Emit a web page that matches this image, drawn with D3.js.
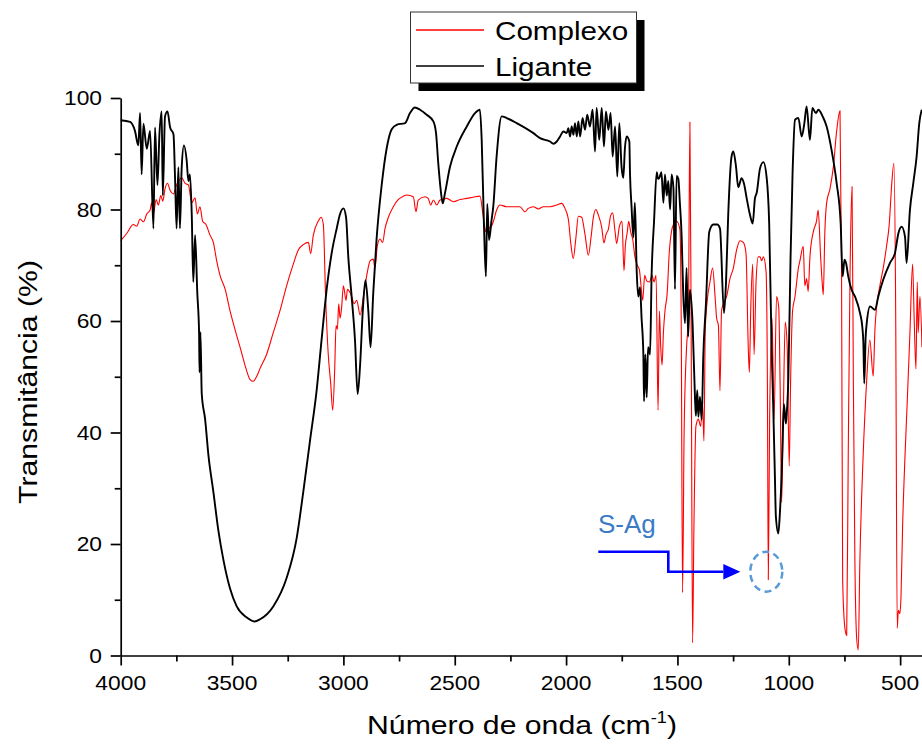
<!DOCTYPE html>
<html><head><meta charset="utf-8">
<script src="https://cdn.jsdelivr.net/npm/d3@7"></script>
<style>
body{margin:0;background:#fff;}
svg{display:block;font-family:"Liberation Sans",Arial,sans-serif;}
</style></head>
<body>
<svg id="chart" width="922" height="747"></svg>
<script>
// ---- data: [wavenumber (cm-1), transmittance (%)] ----
const ligante = [
[4000,96.0],[3958,95.7],[3936,94.1],[3921,91.5],[3913,97.3],[3906,86.3],[3898,95.4],[3883,90.9],[3868,94.1],[3853,76.6],
[3846,94.7],[3835,84.4],[3826,93.5],[3816,97.6],[3811,82.5],[3801,96.7],[3790,97.6],[3778,94.7],[3763,93.5],[3756,85.7],
[3749,76.6],[3741,87.6],[3734,76.6],[3726,87.6],[3716,91.5],[3704,88.9],[3696,85.1],[3689,86.3],[3681,79.2],[3674,67.0],
[3666,75.4],[3656,65.0],[3648,57.9],[3646,50.8],[3642,58.0],[3636,46.9],[3621,42.4],[3606,35.9],[3584,29.4],[3561,22.3],
[3539,17.2],[3509,12.0],[3479,8.8],[3434,6.8],[3400,6.1],[3374,6.5],[3315,8.8],[3255,13.9],[3210,21.0],[3180,29.4],
[3150,38.5],[3120,47.6],[3098,56.6],[3075,65.7],[3053,72.1],[3030,76.6],[3015,79.2],[3000,80.2],[2988,78.6],[2978,71.5],
[2963,64.4],[2948,56.6],[2936,46.9],[2925,52.1],[2913,61.8],[2901,67.3],[2888,61.8],[2878,55.3],[2866,65.0],[2851,74.7],
[2828,84.4],[2806,90.9],[2783,94.4],[2761,95.2],[2723,95.5],[2701,97.3],[2679,98.3],[2656,97.9],[2626,97.0],[2596,95.8],
[2584,93.7],[2574,88.3],[2563,83.5],[2554,81.1],[2544,82.9],[2521,87.7],[2491,91.3],[2446,94.9],[2409,97.3],[2387,97.9],
[2379,92.5],[2369,77.5],[2360,68.0],[2354,81.0],[2346,74.5],[2335,78.0],[2327,80.5],[2312,89.5],[2289,96.7],[2267,96.4],
[2222,95.5],[2147,93.7],[2117,92.8],[2072,92.2],[2057,91.8],[2042,92.2],[2027,93.1],[2012,94.0],[1997,93.7],[1990,94.6],
[1982,93.1],[1975,94.9],[1967,93.4],[1960,95.5],[1952,93.1],[1945,95.8],[1937,93.1],[1926,96.4],[1915,94.3],[1905,97.0],
[1893,94.9],[1881,97.9],[1870,90.4],[1863,98.2],[1851,92.5],[1840,98.2],[1830,91.3],[1821,97.6],[1810,94.3],[1800,97.3],
[1791,89.5],[1780,94.9],[1770,85.9],[1761,95.5],[1751,87.7],[1743,85.7],[1736,90.9],[1728,93.1],[1716,92.2],[1713,86.5],
[1706,80.5],[1698,75.0],[1691,81.2],[1683,69.0],[1676,64.4],[1668,66.0],[1661,60.5],[1653,54.0],[1650,45.6],[1644,54.0],
[1638,46.3],[1632,55.3],[1623,54.0],[1616,68.2],[1605,77.9],[1593,86.7],[1587,85.5],[1581,85.7],[1572,86.7],[1563,81.2],
[1556,86.3],[1548,82.5],[1541,85.1],[1533,80.0],[1526,86.3],[1518,83.8],[1511,65.7],[1504,86.0],[1496,85.5],[1489,81.1],
[1481,75.1],[1474,65.0],[1466,59.6],[1459,69.5],[1452,57.2],[1444,65.6],[1432,59.6],[1421,46.0],[1417,43.0],[1411,47.6],
[1406,42.8],[1399,46.4],[1391,42.3],[1384,53.6],[1372,63.1],[1357,76.0],[1339,77.3],[1321,77.3],[1309,76.6],[1291,61.4],
[1282,66.8],[1272,79.0],[1257,89.5],[1249,90.4],[1237,87.7],[1227,84.0],[1212,85.6],[1201,84.6],[1189,82.0],[1174,79.0],
[1162,77.5],[1152,82.0],[1144,83.0],[1129,87.4],[1114,88.5],[1099,85.6],[1088,77.5],[1077,55.0],[1070,45.0],[1062,31.5],
[1058,25.0],[1047,21.9],[1040,25.5],[1032,32.7],[1028,38.0],[1022,45.1],[1013,41.6],[1010,43.0],[1002,49.5],[992,71.5],
[983,86.5],[972,96.1],[957,96.4],[942,93.1],[930,95.5],[920,98.5],[905,92.5],[894,98.2],[878,97.3],[867,97.9],
[848,96.7],[830,94.9],[808,90.7],[785,84.7],[767,77.5],[758,68.0],[750,71.0],[743,70.4],[733,68.0],[718,65.6],
[703,64.4],[680,61.4],[670,59.0],[665,56.0],[661,48.8],[655,57.0],[650,59.6],[635,62.6],[613,62.0],[598,64.4],
[576,67.4],[546,70.4],[523,72.2],[508,75.7],[493,76.9],[478,75.1],[471,70.4],[456,79.9],[441,84.7],[426,89.5],
[414,95.5],[403,97.9]
];
const complexo = [
[4000,74.4],[3973,75.7],[3943,77.3],[3928,77.0],[3913,78.3],[3898,77.8],[3883,79.2],[3868,79.9],[3861,81.2],[3853,79.2],
[3841,81.8],[3831,80.8],[3820,82.5],[3811,81.5],[3801,83.7],[3790,84.7],[3778,83.4],[3763,82.8],[3752,84.1],[3741,85.0],
[3726,85.7],[3711,84.7],[3696,84.4],[3681,81.2],[3666,82.1],[3656,79.2],[3644,80.5],[3632,77.9],[3617,77.3],[3599,75.4],
[3584,74.1],[3569,70.8],[3554,68.2],[3531,65.7],[3509,61.8],[3487,58.5],[3464,55.3],[3442,52.1],[3419,49.5],[3404,49.2],
[3389,50.1],[3374,51.5],[3345,54.0],[3315,57.9],[3285,61.8],[3255,66.3],[3225,70.2],[3202,72.8],[3180,73.7],[3157,74.1],
[3147,72.1],[3135,75.4],[3113,77.9],[3100,78.6],[3090,77.3],[3080,64.4],[3068,54.0],[3057,48.8],[3048,44.0],[3039,51.4],
[3033,59.2],[3027,58.5],[3021,63.1],[3015,60.5],[3008,62.4],[3000,66.3],[2988,63.7],[2982,65.7],[2973,65.3],[2963,64.4],
[2952,63.1],[2940,63.7],[2925,61.1],[2910,64.4],[2895,68.2],[2880,70.8],[2866,71.1],[2858,69.5],[2848,73.4],[2836,74.7],
[2824,74.1],[2813,76.6],[2798,78.6],[2776,80.5],[2753,81.8],[2730,82.4],[2716,82.6],[2686,82.3],[2674,79.6],[2664,81.7],
[2634,82.3],[2619,82.0],[2608,80.8],[2596,81.7],[2581,80.8],[2566,81.7],[2536,82.0],[2506,81.4],[2476,81.8],[2446,82.0],
[2417,82.2],[2387,82.4],[2372,78.7],[2363,76.0],[2354,77.5],[2342,76.6],[2327,77.8],[2312,79.9],[2297,80.8],[2267,80.5],
[2237,80.5],[2207,80.5],[2185,79.6],[2170,80.2],[2147,80.5],[2125,80.1],[2102,80.5],[2072,80.5],[2042,80.8],[2020,81.1],
[2005,80.2],[1990,78.3],[1979,74.0],[1968,71.2],[1956,74.9],[1945,78.8],[1930,78.6],[1915,75.5],[1900,71.8],[1888,75.0],
[1878,78.5],[1866,80.0],[1855,79.0],[1840,76.8],[1830,74.0],[1821,75.5],[1810,76.5],[1800,78.9],[1791,79.4],[1780,76.0],
[1773,73.9],[1761,76.9],[1749,77.9],[1740,69.0],[1734,73.4],[1725,76.0],[1719,77.9],[1710,76.0],[1701,74.7],[1691,71.5],
[1680,70.0],[1671,69.2],[1665,67.0],[1656,63.7],[1647,68.2],[1638,67.2],[1626,67.0],[1614,68.2],[1605,67.0],[1596,68.2],
[1587,44.0],[1581,61.8],[1575,55.3],[1569,52.1],[1563,57.9],[1556,61.8],[1546,65.0],[1537,72.1],[1527,76.0],[1518,77.3],
[1504,77.9],[1489,76.5],[1483,60.0],[1477,11.3],[1470,40.0],[1459,55.3],[1451,60.5],[1444,95.7],[1438,55.0],[1432,2.3],
[1426,23.0],[1417,41.1],[1406,42.4],[1396,41.1],[1387,45.0],[1381,38.5],[1375,58.5],[1366,63.7],[1354,67.0],[1342,69.5],
[1331,64.4],[1324,60.5],[1316,59.2],[1309,47.5],[1302,61.8],[1294,63.1],[1279,64.4],[1264,67.6],[1249,69.5],[1234,72.8],
[1219,74.4],[1204,74.1],[1192,72.1],[1182,55.3],[1177,50.8],[1171,61.8],[1162,70.2],[1156,54.0],[1147,67.0],[1137,71.5],
[1129,71.5],[1122,70.8],[1114,71.5],[1102,68.9],[1096,48.8],[1092,13.6],[1086,42.4],[1075,60.5],[1066,42.4],[1055,64.4],
[1045,62.4],[1039,48.8],[1032,27.5],[1025,42.4],[1016,59.8],[1007,55.3],[998,34.0],[992,48.8],[983,61.8],[972,64.4],
[957,69.5],[950,70.8],[935,73.4],[928,66.3],[920,67.6],[913,65.3],[905,71.5],[890,76.0],[875,78.0],[868,79.9],
[857,71.5],[850,66.9],[845,64.7],[838,76.0],[830,81.2],[815,83.7],[800,87.6],[785,94.1],[770,97.7],[763,68.2],
[758,13.3],[748,4.9],[740,3.6],[733,36.0],[725,68.2],[716,84.1],[710,48.8],[703,16.5],[695,3.0],[688,1.0],
[681,16.5],[666,35.9],[651,48.8],[636,56.6],[621,50.1],[613,58.6],[606,62.4],[591,66.3],[576,69.5],[561,73.4],
[549,77.3],[538,84.4],[528,88.3],[520,61.8],[513,4.9],[508,8.1],[501,7.5],[496,10.7],[489,23.0],[478,35.9],
[468,45.6],[456,57.9],[444,70.2],[437,60.5],[429,51.4],[423,67.0],[419,57.9],[411,64.4],[402,55.3]
];
const xTicks = [4000,3500,3000,2500,2000,1500,1000,500];
const xMinor = [3750,3250,2750,2250,1750,1250,750];
const yTicks = [0,20,40,60,80,100];
const yMinor = [10,30,50,70,90];
const seriesNames = ["Complexo","Ligante"];
const seriesColors = ["#ff0000","#000000"];
const annotationLabel = "S-Ag";
const annotationWn = 1092;   // peak pointed to
const annotationT = 13.6;

// ---- drawing ----
const svg = d3.select("#chart");
const SX = 1.14; // horizontal text stretch of the original
const x = d3.scaleLinear().domain([4000,400]).range([120.7,922.4]);
const y = d3.scaleLinear().domain([0,100]).range([655.5,98]);

svg.append("defs").append("clipPath").attr("id","clip")
  .append("rect").attr("x",120).attr("y",0).attr("width",802).attr("height",660);

const line = d3.line().x(d=>x(d[0])).y(d=>y(d[1])).curve(d3.curveMonotoneX);
const plot = svg.append("g").attr("clip-path","url(#clip)");
plot.append("path").datum(complexo).attr("d",line)
  .attr("fill","none").attr("stroke",seriesColors[0]).attr("stroke-width",1.1).attr("stroke-linejoin","round");
plot.append("path").datum(ligante).attr("d",line)
  .attr("fill","none").attr("stroke",seriesColors[1]).attr("stroke-width",1.9).attr("stroke-linejoin","round");

function stext(parent, tx, ty, str, size, anchor, color, sx){
  const g = parent.append("g").attr("transform",`translate(${tx},${ty}) scale(${sx||SX},1)`);
  return g.append("text").attr("text-anchor",anchor||"start").attr("font-size",size)
    .attr("fill",color||"#000").text(str);
}

// axes
svg.append("g").attr("transform",`translate(0,${y(0)})`)
  .call(d3.axisBottom(x).tickValues(xTicks).tickSize(10).tickSizeOuter(0).tickFormat(""));
svg.append("g").attr("transform",`translate(0,${y(0)})`)
  .call(d3.axisBottom(x).tickValues(xMinor).tickSize(6).tickSizeOuter(0).tickFormat(""))
  .select(".domain").remove();
svg.append("g").attr("transform",`translate(${x(4000)},0)`)
  .call(d3.axisLeft(y).tickValues(yTicks).tickSize(10).tickSizeOuter(0).tickFormat(""));
svg.append("g").attr("transform",`translate(${x(4000)},0)`)
  .call(d3.axisLeft(y).tickValues(yMinor).tickSize(6).tickSizeOuter(0).tickFormat(""))
  .select(".domain").remove();
svg.selectAll(".domain, .tick line").attr("stroke","#000").attr("stroke-width",1.7);

xTicks.forEach(v=>stext(svg, x(v), 690, String(v), 20, "middle"));
yTicks.forEach(v=>stext(svg, 102, y(v)+7, String(v), 20, "end"));

// axis titles
const xt = stext(svg, 522, 734, "", 26.5, "middle");
xt.append("tspan").text("Número de onda (cm");
xt.append("tspan").attr("font-size",16).attr("dy",-11).text("-1");
xt.append("tspan").attr("dy",11).text(")");

svg.append("g").attr("transform",`translate(37,382) rotate(-90) scale(1.14,1)`)
  .append("text").attr("text-anchor","middle").attr("font-size",26.5).text("Transmitância (%)");

// legend
const lg = svg.append("g");
lg.append("rect").attr("x",418.5).attr("y",20).attr("width",226).attr("height",71).attr("fill","#000");
lg.append("rect").attr("x",410.5).attr("y",12).attr("width",226).attr("height",71)
  .attr("fill","#fff").attr("stroke","#333").attr("stroke-width",1);
seriesNames.forEach((n,i)=>{
  const yy = 30 + i*36;
  lg.append("line").attr("x1",416).attr("x2",484).attr("y1",yy).attr("y2",yy)
    .attr("stroke",seriesColors[i]).attr("stroke-width",i===0?1.3:1.6);
  stext(lg, 495, yy+9.5, n, 26, "start");
});

// annotation
const ann = svg.append("g");
const px = x(annotationWn), py = y(annotationT);
ann.append("text").attr("x",598).attr("y",533).attr("font-size",26).attr("fill","#3b7bc6").text(annotationLabel);
ann.append("path").attr("d",`M598.3,551.7 H668.3 V571.7 H${px-45}`)
  .attr("fill","none").attr("stroke","#0000ff").attr("stroke-width",2.6);
ann.append("path").attr("d",`M${px-45},564 L${px-28},571.7 L${px-45},579.4 Z`).attr("fill","#0000ff");
ann.append("ellipse").attr("cx",px-2).attr("cy",571.7).attr("rx",16).attr("ry",20)
  .attr("fill","none").attr("stroke","#5b9bd5").attr("stroke-width",2.5).attr("stroke-dasharray","7,4.5");
</script>
</body></html>
